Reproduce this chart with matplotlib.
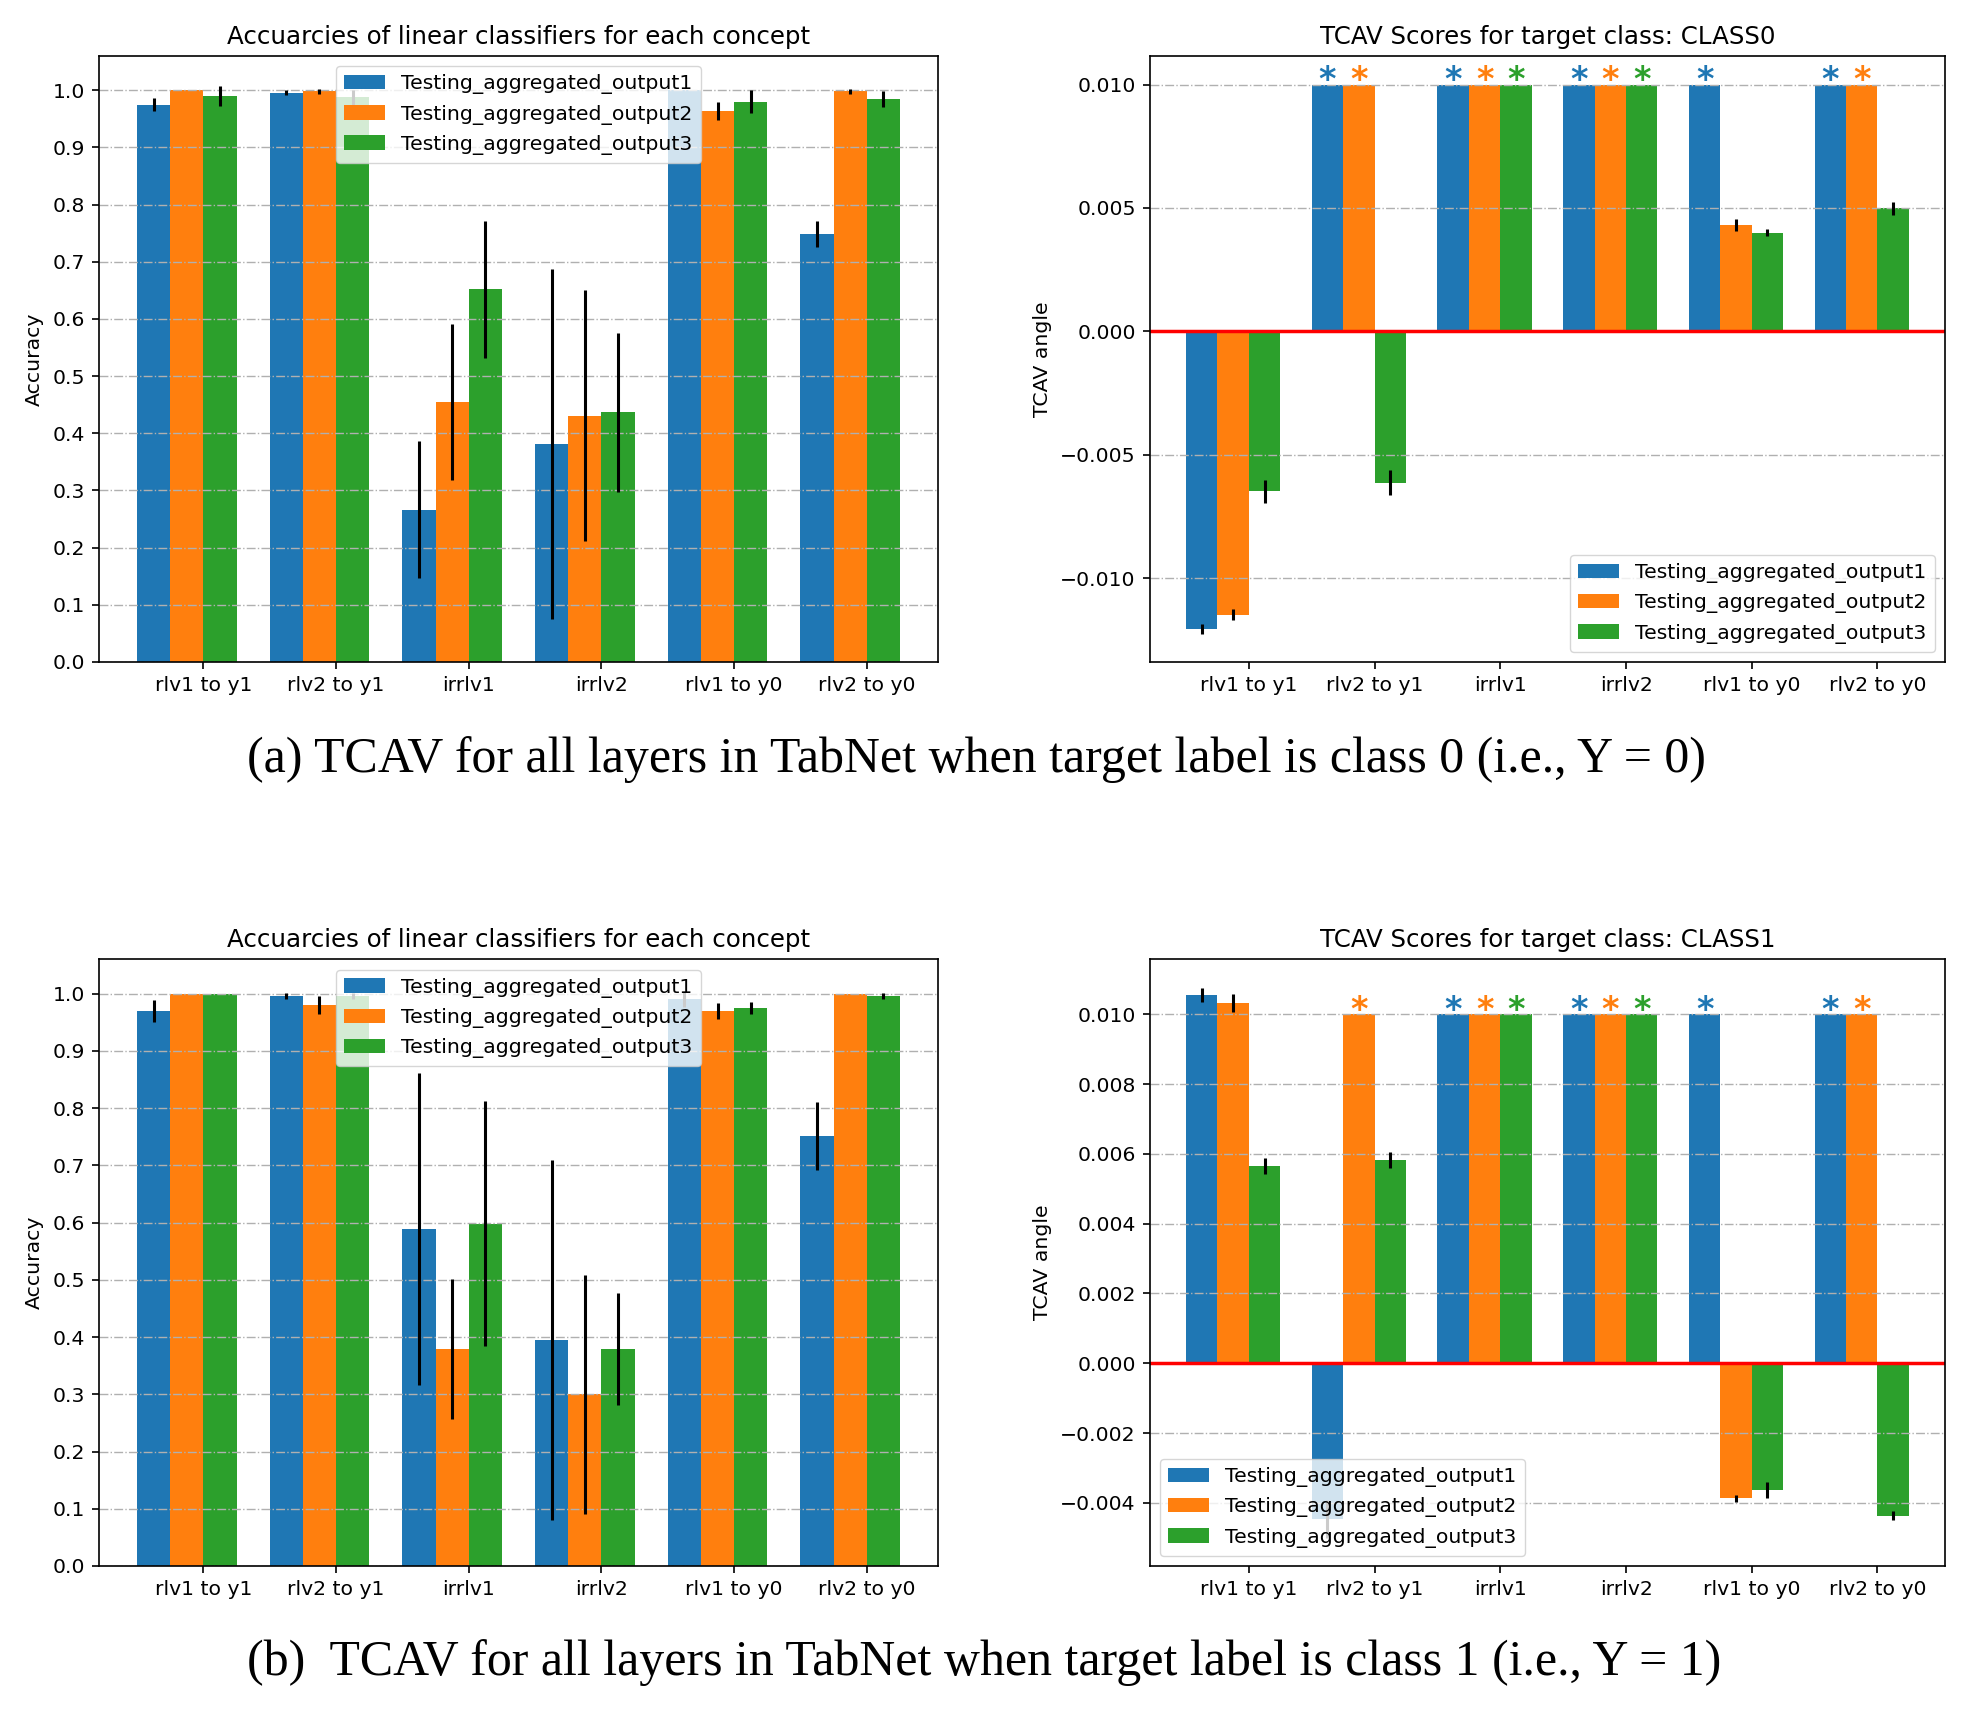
import matplotlib
matplotlib.use("agg")

import matplotlib.pyplot as plt
import numpy as np


CONCEPTS = ["rlv1 to y1", "rlv2 to y1", "irrlv1", "irrlv2", "rlv1 to y0", "rlv2 to y0"]
LAYERS = ["Testing_aggregated_output1", "Testing_aggregated_output2", "Testing_aggregated_output3"]
COLORS = ["#1f77b4", "#ff7f0e", "#2ca02c"]

# accuracies of linear classifiers, target class 0 (rows = layers)
acc0_mean = [[0.975, 0.996, 0.266, 0.381, 1.000, 0.749],
             [1.000, 0.998, 0.455, 0.431, 0.964, 0.998],
             [0.990, 0.9875, 0.652, 0.437, 0.980, 0.985]]
acc0_std = [[0.012, 0.005, 0.120, 0.306, 0.0, 0.023],
            [0.0, 0.005, 0.137, 0.220, 0.016, 0.005],
            [0.017, 0.013, 0.120, 0.139, 0.020, 0.014]]

# accuracies of linear classifiers, target class 1
acc1_mean = [[0.9695, 0.996, 0.589, 0.3945, 0.990, 0.7516],
             [1.000, 0.980, 0.379, 0.300, 0.9695, 1.000],
             [1.000, 0.996, 0.598, 0.379, 0.975, 0.996]]
acc1_std = [[0.019, 0.005, 0.272, 0.315, 0.014, 0.059],
            [0.0, 0.016, 0.122, 0.209, 0.014, 0.0],
            [0.0, 0.005, 0.214, 0.0975, 0.011, 0.005]]

# TCAV scores, target class 0
tcav0_mean = [[-0.01208, 0.010, 0.010, 0.010, 0.010, 0.010],
              [-0.01148, 0.010, 0.010, 0.010, 0.0043, 0.010],
              [-0.00649, -0.00613, 0.010, 0.010, 0.0040, 0.00499]]
tcav0_std = [[0.0002, 0, 0, 0, 0, 0],
             [0.00023, 0, 0, 0, 0.00024, 0],
             [0.00045, 0.0005, 0, 0, 0.00013, 0.00027]]
tcav0_sig = [[0, 1, 1, 1, 1, 1],
             [0, 1, 1, 1, 0, 1],
             [0, 0, 1, 1, 0, 0]]

# TCAV scores, target class 1
tcav1_mean = [[0.01054, -0.00446, 0.010, 0.010, 0.010, 0.010],
              [0.01032, 0.010, 0.010, 0.010, -0.00386, 0.010],
              [0.00564, 0.00582, 0.010, 0.010, -0.00363, -0.00437]]
tcav1_std = [[0.0002, 0.00055, 0, 0, 0, 0],
             [0.00025, 0, 0, 0, 0.0001, 0],
             [0.00023, 0.00023, 0, 0, 0.00024, 0.00013]]
tcav1_sig = [[0, 0, 1, 1, 1, 1],
             [0, 1, 1, 1, 0, 1],
             [0, 0, 1, 1, 0, 0]]

CAPTION_A = "(a) TCAV for all layers in TabNet when target label is class 0 (i.e., Y = 0)"
CAPTION_B = "(b)  TCAV for all layers in TabNet when target label is class 1 (i.e., Y = 1)"

plt.rcParams.update({
    "font.size": 14.7,
    "axes.linewidth": 1.2,
    "xtick.major.size": 5.2,
    "ytick.major.size": 5.2,
    "xtick.major.width": 1.2,
    "ytick.major.width": 1.2,
    "xtick.major.pad": 5.0,
    "ytick.major.pad": 5.0,
    "axes.titlepad": 8.9,
    "axes.labelpad": 5.9,
    "legend.fontsize": 14.7,
})

WIDTH = 0.25


def draw_bars(ax, means, stds):
    x = np.arange(len(CONCEPTS))
    positions = []
    for i, (m, s) in enumerate(zip(means, stds)):
        xs = x + (i - 1.5) * WIDTH
        m = np.asarray(m)
        s = np.asarray(s, dtype=float)
        ax.bar(xs, m, WIDTH, color=COLORS[i], label=LAYERS[i])
        # skip the zero-width error bars (capped scores)
        mask = s > 0
        ax.errorbar(xs[mask], m[mask], yerr=s[mask], fmt="none",
                    ecolor="k", elinewidth=2.2)
        positions.append(xs)
    ax.set_xticks(x)
    ax.set_xticklabels(CONCEPTS)
    ax.yaxis.grid(True, linestyle="-.", color="#b0b0b0", linewidth=1.0)
    return positions


def plot_accuracy(ax, means, stds):
    draw_bars(ax, means, stds)
    ax.set_ylim(0, 1.06)
    ax.set_yticks(np.arange(0, 1.01, 0.1))
    ax.set_ylabel("Accuracy")
    ax.set_title("Accuarcies of linear classifiers for each concept")
    ax.legend(loc="upper center")


def plot_tcav(ax, means, stds, sig, cls_name, ylim, yticks, legend_loc):
    positions = draw_bars(ax, means, stds)
    ax.axhline(0, color="red", linewidth=2.5)
    for i, xs in enumerate(positions):
        for j, flag in enumerate(sig[i]):
            if flag:
                ax.annotate("*", (xs[j], means[i][j]), xytext=(0, -4),
                            textcoords="offset points", ha="center",
                            va="baseline", color=COLORS[i], fontsize=24,
                            fontweight="bold")
    ax.set_ylim(*ylim)
    ax.set_yticks(yticks)
    ax.set_yticklabels(["{:.3f}".format(t).replace("-", "\u2212") if abs(t) > 1e-12
                        else "0.000" for t in yticks])
    ax.set_ylabel("TCAV angle")
    ax.set_title("TCAV Scores for target class: " + cls_name)
    ax.legend(loc=legend_loc)


fig = plt.figure(figsize=(19.67, 17.22), dpi=100)

ax_a1 = fig.add_axes([0.0503, 0.6156, 0.4266, 0.3519])
ax_a2 = fig.add_axes([0.5846, 0.6156, 0.4042, 0.3519])
ax_b1 = fig.add_axes([0.0503, 0.0906, 0.4266, 0.3523])
ax_b2 = fig.add_axes([0.5846, 0.0906, 0.4042, 0.3523])

plot_accuracy(ax_a1, acc0_mean, acc0_std)
plot_tcav(ax_a2, tcav0_mean, tcav0_std, tcav0_sig, "CLASS0",
          (-0.0134, 0.01116), [-0.010, -0.005, 0.0, 0.005, 0.010], "lower right")
plot_accuracy(ax_b1, acc1_mean, acc1_std)
plot_tcav(ax_b2, tcav1_mean, tcav1_std, tcav1_sig, "CLASS1",
          (-0.005806, 0.011573), [-0.004, -0.002, 0.0, 0.002, 0.004, 0.006, 0.008, 0.010],
          "lower left")

fig.text(0.1256, 0.5587, CAPTION_A, family="Liberation Serif", fontsize=35.9,
         ha="left", va="center")
fig.text(0.1256, 0.0343, CAPTION_B, family="Liberation Serif", fontsize=35.9,
         ha="left", va="center")

fig.savefig("out.png", dpi=100)
